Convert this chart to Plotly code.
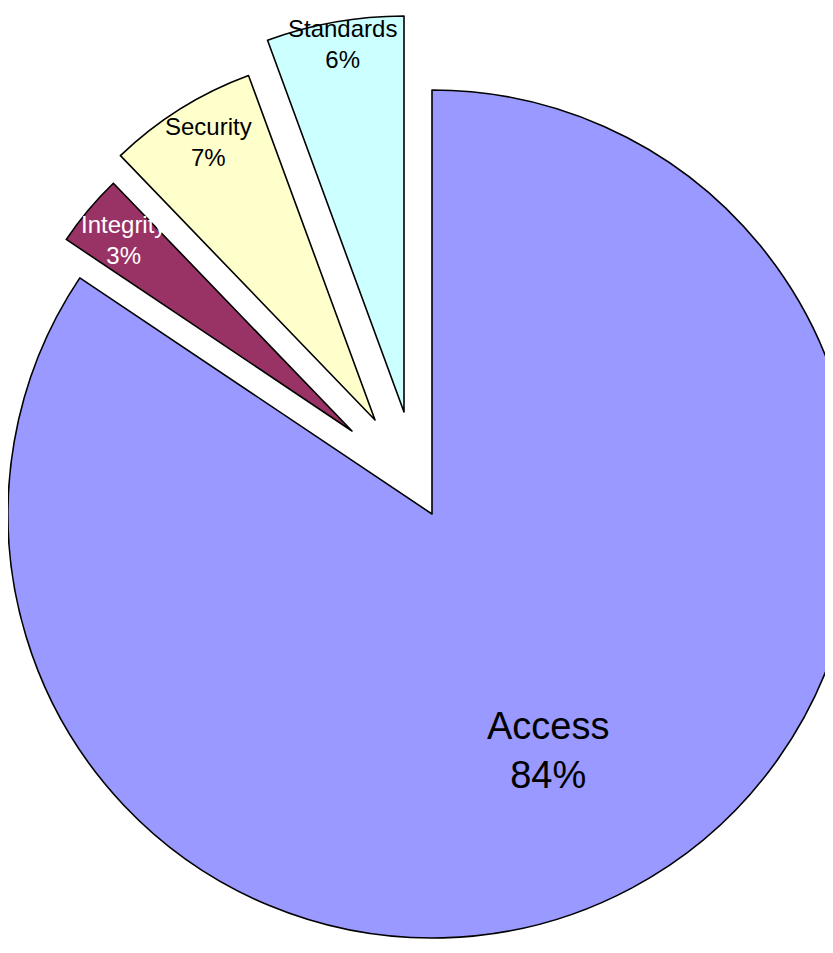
import plotly.graph_objects as go

# ---- data ----
labels = ["Access", "Integrity", "Security", "Standards"]
values = [84.4, 3.4, 6.6, 5.6]
colors = ["#9999FF", "#993366", "#FFFFCC", "#CCFFFF"]
label_colors = ["black", "white", "black", "black"]

total = sum(values)
pct = [f"{round(v / total * 100)}%" for v in values]

# ---- layout helpers (screen px; page body has an 8px margin) ----
OFF = 8
W, H = 870, 953

# exploded-slice placement: apex (x, y) and radius, in screen px
geom = {
    "Access": (432, 514, 424),
    "Integrity": (352, 431, 344),
    "Security": (375, 420, 367),
    "Standards": (404, 412, 396),
}
# label centres (screen px) and font sizes
label_pos = {
    "Access": (548, 750, 38),
    "Integrity": (123, 240, 24),
    "Security": (208, 142, 24),
    "Standards": (342, 44, 24),
}

fig = go.Figure()
for i, name in enumerate(labels):
    sx, sy, r = geom[name]
    fx, fy = sx - OFF, sy - OFF
    dom_x = [(fx - r) / W, (fx + r) / W]
    dom_y = [1 - (fy + r) / H, 1 - (fy - r) / H]
    dom_x = [min(max(v, 0), 1) for v in dom_x]
    dom_y = [min(max(v, 0), 1) for v in dom_y]
    fig.add_trace(go.Pie(
        labels=labels,
        values=values,
        sort=False,
        direction="clockwise",
        rotation=0,
        marker=dict(
            colors=[c if j == i else "rgba(0,0,0,0)" for j, c in enumerate(colors)],
            line=dict(color="black", width=[1.6 if j == i else 0 for j in range(len(labels))]),
        ),
        textinfo="none",
        hoverinfo="label+percent",
        showlegend=False,
        domain=dict(x=dom_x, y=dom_y),
    ))

for i, name in enumerate(labels):
    sx, sy, size = label_pos[name]
    fig.add_annotation(
        x=(sx - OFF) / W, y=1 - (sy - OFF) / H, xref="paper", yref="paper",
        text=f"{name}<br>{pct[i]}", showarrow=False,
        xanchor="center", yanchor="middle",
        font=dict(family="Arial, Liberation Sans, sans-serif", size=size, color=label_colors[i]),
    )

fig.update_layout(
    width=W, height=H,
    margin=dict(l=0, r=0, t=0, b=0),
    paper_bgcolor="white",
    plot_bgcolor="white",
    showlegend=False,
)

fig.write_html("out.html")
